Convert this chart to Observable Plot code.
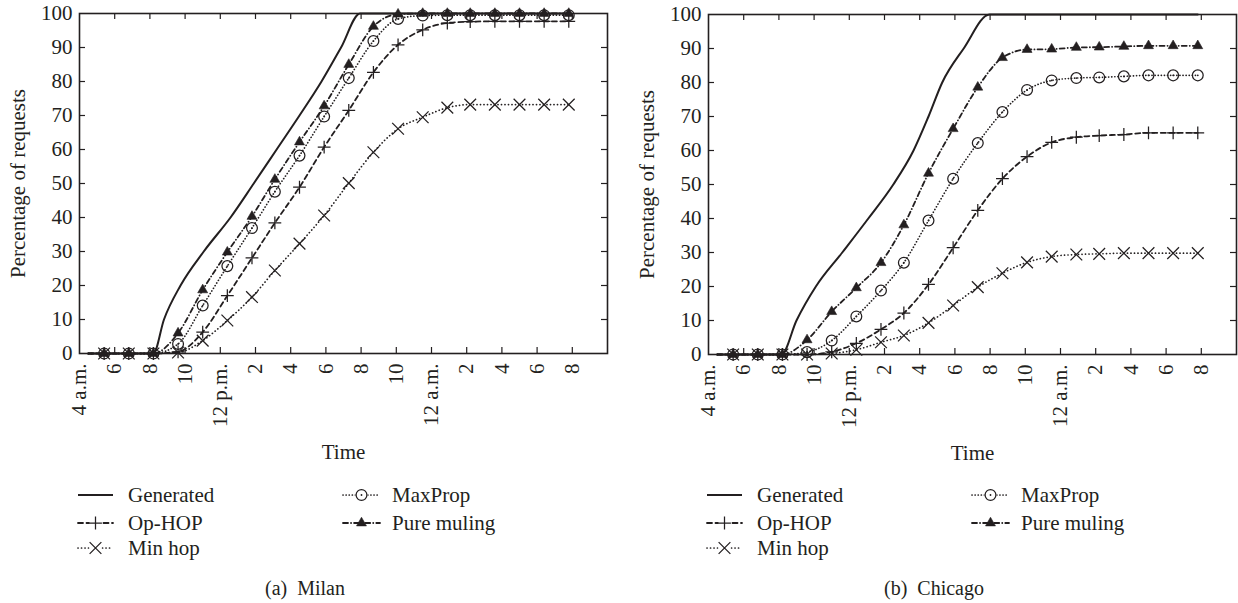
<!DOCTYPE html>
<html>
<head>
<meta charset="utf-8">
<script src="https://cdn.jsdelivr.net/npm/d3@7"></script>
<script src="https://cdn.jsdelivr.net/npm/@observablehq/plot@0.6"></script>
<style>
  html, body { margin: 0; padding: 0; background: #fff; }
  body { width: 1238px; height: 603px; overflow: hidden; position: relative; font-family: "Liberation Serif", "Times New Roman", serif; color: #231f20; }
  .panel { position: absolute; }
</style>
</head>
<body>
<script>
// ---------- data ----------
const tickHours  = [4, 6, 8, 10, 12, 14, 16, 18, 20, 22, 24, 26, 28, 30, 32];
const tickLabels = ["4 a.m.", "6", "8", "10", "12 p.m.", "2", "4", "6", "8", "10", "12 a.m.", "2", "4", "6", "8"];
const innerTicksX = [6, 8, 10, 12, 14, 16, 18, 20, 22, 24, 26, 28, 30, 32];
const yTicks = [0, 10, 20, 30, 40, 50, 60, 70, 80, 90, 100];
const innerTicksY = [10, 20, 30, 40, 50, 60, 70, 80, 90];
const seriesNames = ["Generated", "Op-HOP", "Min hop", "MaxProp", "Pure muling"];
const xAxisLabel = "Time";
const yAxisLabel = "Percentage of requests";
const captions = ["(a)  Milan", "(b)  Chicago"];

// hours (from 4 a.m. of day 1) of the plotted markers
const markerHours = [5.4, 6.8, 8.2, 9.6, 11, 12.4, 13.8, 15.1, 16.5, 17.9, 19.3, 20.7, 22.1, 23.5, 24.9, 26.2, 27.6, 29, 30.4, 31.8];
const lineStartHour = 4.5;

// Milan
const milanGenHours  = [4.5, 8.2, 8.8, 9.74, 11.06, 12.58, 13.9, 15.2, 16.5, 17.75, 18.86, 19.94, 31.8];
const milanGenerated = [0, 0, 10, 20, 30, 40, 50, 60, 70, 80, 90, 100, 100];
const milanOpHop     = [0, 0, 0, 0.5, 6.3, 17, 28.1, 38.4, 48.9, 60.7, 71.5, 82.7, 90.8, 95.2, 97.2, 97.6, 97.7, 97.7, 97.7, 97.7];
const milanMinHop    = [0, 0, 0, 0.3, 3.8, 9.7, 16.6, 24.4, 32.3, 40.6, 50.1, 59.2, 66.1, 69.5, 72.3, 73.2, 73.2, 73.2, 73.2, 73.2];
const milanMaxProp   = [0, 0, 0, 2.8, 14.1, 25.7, 36.9, 47.6, 58.2, 69.7, 81, 91.9, 98.4, 99.4, 99.5, 99.5, 99.5, 99.5, 99.5, 99.5];
const milanPureMul   = [0, 0, 0, 6, 18.7, 29.8, 40.3, 51.2, 62.2, 72.8, 85, 96.2, 99.8, 100, 100, 100, 100, 100, 100, 100];

// Chicago
const chicagoGenHours  = [4.5, 8.15, 9.0, 10.1, 11.6, 13.08, 14.5, 15.65, 16.5, 17.28, 18.5, 19.97, 31.8];
const chicagoGenerated = [0, 0, 10, 20, 30, 40, 50, 60, 70, 80, 90, 100, 100];
const chicagoOpHop     = [0, 0, 0, 0, 0.8, 3.3, 7.4, 12.2, 20.6, 31.4, 42.4, 51.7, 58.2, 62.4, 63.9, 64.4, 64.7, 65.2, 65.2, 65.2];
const chicagoMinHop    = [0, 0, 0, 0, 0.3, 1.4, 3.6, 5.6, 9.3, 14.4, 19.8, 23.9, 27.1, 28.8, 29.4, 29.6, 29.8, 29.8, 29.8, 29.8];
const chicagoMaxProp   = [0, 0, 0, 0.7, 4.1, 11.2, 18.8, 27, 39.4, 51.7, 62.2, 71.3, 77.8, 80.6, 81.3, 81.5, 81.8, 82.1, 82.1, 82.1];
const chicagoPureMul   = [0, 0, 0, 4.3, 12.6, 19.6, 27, 38.1, 53.3, 66.4, 78.6, 87.3, 89.7, 89.8, 90.3, 90.4, 90.6, 90.8, 90.8, 90.8];

// ---------- styles ----------
const INK = "#231f20";
const FONT = "'Liberation Serif', 'Times New Roman', serif";
const styles = {
  "Generated":   {dash: null,            width: 2.0, symbol: null},
  "Op-HOP":      {dash: "5,3.5",         width: 1.8, symbol: "plus",     r: 4.2, fill: "none"},
  "Min hop":     {dash: "0.1,3.4",       width: 1.7, symbol: "times",    r: 5.4, fill: "none"},
  "MaxProp":     {dash: "0.1,3.0",       width: 1.7, symbol: "circle",   r: 5.4, fill: "none"},
  "Pure muling": {dash: "5,3,0.1,3",     width: 1.8, symbol: "triangle", r: 3.7, fill: INK}
};

const labelByHour = new Map(tickHours.map((h, i) => [h, tickLabels[i]]));

function rows(hours, values) {
  return hours.map((h, i) => ({h, v: values[i]}));
}

function makePanel(cfg) {
  const series = [
    ["Op-HOP", cfg.opHop], ["Min hop", cfg.minHop], ["MaxProp", cfg.maxProp], ["Pure muling", cfg.pureMul]
  ];
  const marks = [
    Plot.ruleX(innerTicksX, {x: d => d, insetTop: 334, stroke: INK, strokeWidth: 1.2}),
    Plot.ruleX(innerTicksX, {x: d => d, insetBottom: 334, stroke: INK, strokeWidth: 1.2}),
    Plot.ruleY(innerTicksY, {y: d => d, insetRight: 522, stroke: INK, strokeWidth: 1.2}),
    Plot.ruleY(innerTicksY, {y: d => d, insetLeft: 522, stroke: INK, strokeWidth: 1.2}),
    Plot.axisY({ticks: yTicks, tickSize: 0, tickPadding: 7, label: null, fontSize: 21}),
    Plot.axisX({ticks: tickHours, tickFormat: d => labelByHour.get(d), tickRotate: -90, tickSize: 0, tickPadding: 10, label: null, fontSize: 21}),
    Plot.text([yAxisLabel], {text: d => d, frameAnchor: "left", dx: -61, rotate: -90, textAnchor: "middle", lineAnchor: "middle", fontSize: 21}),
    Plot.text([xAxisLabel], {text: d => d, frameAnchor: "bottom", dy: 99, lineAnchor: "middle", fontSize: 21}),
    Plot.line(rows(cfg.genHours, cfg.generated), {x: "h", y: "v", stroke: INK, strokeWidth: styles["Generated"].width, curve: "monotone-x"})
  ];
  for (const [name, vals] of series) {
    const s = styles[name];
    marks.push(Plot.line(rows([lineStartHour, ...markerHours], [0, ...vals]), {
      x: "h", y: "v", stroke: INK, strokeWidth: s.width, strokeDasharray: s.dash,
      strokeLinecap: "round", curve: "monotone-x"
    }));
  }
  for (const [name, vals] of series) {
    const s = styles[name];
    const data = rows(markerHours, vals);
    if (s.symbol === "triangle") {
      marks.push(Plot.dot(data, {x: "h", y: "v", symbol: "triangle", r: s.r, fill: INK, stroke: INK, strokeWidth: 0.6}));
    } else {
      marks.push(Plot.dot(data, {x: "h", y: "v", symbol: s.symbol, r: s.r, fill: "none", stroke: INK, strokeWidth: 1.25}));
      if (s.symbol === "circle") {
        marks.push(Plot.dot(data, {x: "h", y: "v", r: 0.9, fill: INK, stroke: null}));
      }
    }
  }
  marks.push(Plot.frame({stroke: INK, strokeWidth: 1.6}));

  return Plot.plot({
    width: cfg.width,
    height: 465,
    marginTop: 13,
    marginBottom: 112,
    marginLeft: 79,
    marginRight: cfg.marginRight,
    x: {domain: [4, 34], axis: null},
    y: {domain: [0, 100], axis: null},
    style: {fontFamily: FONT, fontSize: "21px", color: INK, background: "transparent", overflow: "visible"},
    marks
  });
}

const symbolTypes = {plus: d3.symbolPlus, times: d3.symbolTimes, circle: d3.symbolCircle, triangle: d3.symbolTriangle};

function makeLegend(caption, captionX) {
  const svg = d3.create("svg").attr("width", 619).attr("height", 133)
    .style("font-family", FONT).style("font-size", "21px").style("overflow", "visible");
  const layout = [
    {name: "Generated", x0: 78, x1: 113, tx: 128, y: 25},
    {name: "Op-HOP", x0: 78, x1: 113, tx: 128, y: 53},
    {name: "Min hop", x0: 78, x1: 113, tx: 128, y: 78},
    {name: "MaxProp", x0: 343, x1: 380, tx: 392, y: 25},
    {name: "Pure muling", x0: 343, x1: 380, tx: 392, y: 53}
  ];
  for (const item of layout) {
    const s = styles[item.name];
    svg.append("line").attr("x1", item.x0).attr("x2", item.x1).attr("y1", item.y).attr("y2", item.y)
      .attr("stroke", INK).attr("stroke-width", s.width)
      .attr("stroke-dasharray", s.dash).attr("stroke-linecap", s.dash ? "round" : "butt");
    if (s.symbol) {
      const cx = (item.x0 + item.x1) / 2;
      if (s.symbol !== "triangle") {
        svg.append("rect").attr("x", cx - 6).attr("y", item.y - 6).attr("width", 12).attr("height", 12).attr("fill", "#fff");
      }
      svg.append("path").attr("transform", `translate(${cx},${item.y})`)
        .attr("d", d3.symbol(symbolTypes[s.symbol], Math.PI * s.r * s.r)())
        .attr("fill", s.symbol === "triangle" ? INK : "none").attr("stroke", INK).attr("stroke-width", s.symbol === "triangle" ? 0.6 : 1.25);
      if (s.symbol === "circle") svg.append("circle").attr("cx", cx).attr("cy", item.y).attr("r", 0.9).attr("fill", INK);
    }
    svg.append("text").attr("x", item.tx).attr("y", item.y).attr("dy", "0.35em").attr("fill", INK).text(item.name);
  }
  svg.append("text").attr("x", captionX).attr("y", 118).attr("dy", "0.35em").attr("text-anchor", "middle")
    .attr("fill", INK).style("font-size", "20px").style("white-space", "pre").attr("xml:space", "preserve").text(caption);
  return svg.node();
}

function place(node, left, top) {
  const div = document.createElement("div");
  div.className = "panel";
  div.style.left = left + "px";
  div.style.top = top + "px";
  div.appendChild(node);
  document.body.appendChild(div);
}

place(makePanel({width: 619, marginRight: 12, genHours: milanGenHours, generated: milanGenerated,
  opHop: milanOpHop, minHop: milanMinHop, maxProp: milanMaxProp, pureMul: milanPureMul}), 0, 0);
place(makePanel({width: 609, marginRight: 2, genHours: chicagoGenHours, generated: chicagoGenerated,
  opHop: chicagoOpHop, minHop: chicagoMinHop, maxProp: chicagoMaxProp, pureMul: chicagoPureMul}), 629, 1);
place(makeLegend(captions[0], 305), 0, 470);
place(makeLegend(captions[1], 305), 629, 470);
</script>
</body>
</html>
